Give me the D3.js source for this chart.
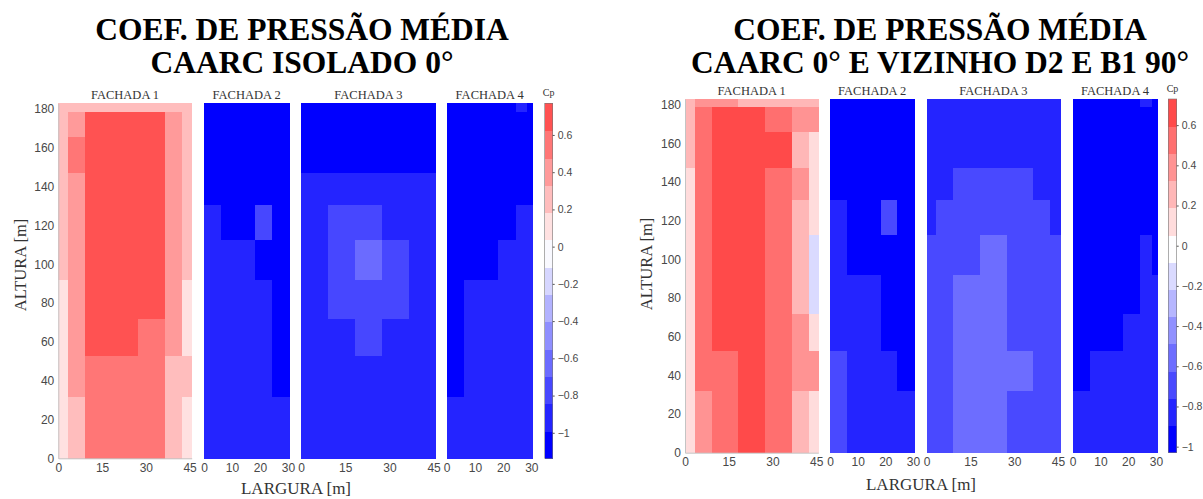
<!DOCTYPE html>
<html>
<head>
<meta charset="utf-8">
<script src="https://cdn.jsdelivr.net/npm/d3@7"></script>
<style>
  body { margin: 0; background: #fff; }
  svg { display: block; }
</style>
</head>
<body>
<script>
// ---------- data ----------
// cell edges (m): heights are shared, widths differ for wide (45.72) and narrow (30.48) faces
var rowEdges = [0, 31.7, 52.7, 71.6, 91.9, 112.5, 130.5, 147.2, 165.7, 178.6, 182.88];
var wideEdges = [0, 3.3, 9.144, 18.288, 27.432, 36.576, 42.4, 45.72];
var narrowEdges = [0, 2.1, 6.096, 12.192, 18.288, 24.384, 28.4, 30.48];

var yTicks = [0, 20, 40, 60, 80, 100, 120, 140, 160, 180];
var wideTicks = [0, 15, 30, 45];
var narrowTicks = [0, 10, 20, 30];
var cbTicks = [-1, -0.8, -0.6, -0.4, -0.2, 0, 0.2, 0.4, 0.6];
var facadeNames = ["FACHADA 1", "FACHADA 2", "FACHADA 3", "FACHADA 4"];

// Cp per cell, rows listed from top (182 m) to bottom (0 m)
// ---- CAARC isolado 0°
var iso_f1 = [
  [0.25, 0.25, 0.25, 0.25, 0.25, 0.25, 0.25],
  [0.25, 0.4, 0.7, 0.7, 0.7, 0.4, 0.25],
  [0.25, 0.55, 0.7, 0.7, 0.7, 0.4, 0.25],
  [0.25, 0.4, 0.7, 0.7, 0.7, 0.4, 0.25],
  [0.25, 0.4, 0.7, 0.7, 0.7, 0.4, 0.25],
  [0.25, 0.4, 0.7, 0.7, 0.7, 0.4, 0.25],
  [0.1, 0.4, 0.7, 0.7, 0.7, 0.4, 0.1],
  [0.1, 0.4, 0.7, 0.7, 0.55, 0.4, 0.1],
  [0.1, 0.4, 0.55, 0.55, 0.55, 0.25, 0.25],
  [0.1, 0.25, 0.55, 0.55, 0.55, 0.25, 0.1]
];
var iso_f2 = [
  [-1.05, -1.05, -1.05, -1.05, -1.05, -1.05, -1.05],
  [-1.05, -1.05, -1.05, -1.05, -1.05, -1.05, -1.05],
  [-1.05, -1.05, -1.05, -1.05, -1.05, -1.05, -1.05],
  [-1.05, -1.05, -1.05, -1.05, -1.05, -1.05, -1.05],
  [-0.92, -0.92, -1.05, -1.05, -0.77, -1.05, -1.05],
  [-0.92, -0.92, -0.92, -0.92, -1.05, -1.05, -1.05],
  [-0.92, -0.92, -0.92, -0.92, -0.92, -1.05, -1.05],
  [-0.92, -0.92, -0.92, -0.92, -0.92, -1.05, -1.05],
  [-0.92, -0.92, -0.92, -0.92, -0.92, -1.05, -1.05],
  [-0.92, -0.92, -0.92, -0.92, -0.92, -0.92, -0.92]
];
var iso_f3 = [
  [-1.05, -1.05, -1.05, -1.05, -1.05, -1.05, -1.05],
  [-1.05, -1.05, -1.05, -1.05, -1.05, -1.05, -1.05],
  [-1.05, -1.05, -1.05, -1.05, -1.05, -1.05, -1.05],
  [-0.92, -0.92, -0.92, -0.92, -0.92, -0.92, -0.92],
  [-0.92, -0.92, -0.77, -0.77, -0.92, -0.92, -0.92],
  [-0.92, -0.92, -0.77, -0.62, -0.77, -0.92, -0.92],
  [-0.92, -0.92, -0.77, -0.77, -0.77, -0.92, -0.92],
  [-0.92, -0.92, -0.92, -0.77, -0.92, -0.92, -0.92],
  [-0.92, -0.92, -0.92, -0.92, -0.92, -0.92, -0.92],
  [-0.92, -0.92, -0.92, -0.92, -0.92, -0.92, -0.92]
];
var iso_f4 = [
  [-1.05, -1.05, -1.05, -1.05, -1.05, -0.92, -1.05],
  [-1.05, -1.05, -1.05, -1.05, -1.05, -1.05, -1.05],
  [-1.05, -1.05, -1.05, -1.05, -1.05, -1.05, -1.05],
  [-1.05, -1.05, -1.05, -1.05, -1.05, -1.05, -1.05],
  [-1.05, -1.05, -1.05, -1.05, -1.05, -0.92, -0.92],
  [-1.05, -1.05, -1.05, -1.05, -0.92, -0.92, -0.92],
  [-1.05, -1.05, -0.92, -0.92, -0.92, -0.92, -0.92],
  [-1.05, -1.05, -0.92, -0.92, -0.92, -0.92, -0.92],
  [-1.05, -1.05, -0.92, -0.92, -0.92, -0.92, -0.92],
  [-0.92, -0.92, -0.92, -0.92, -0.92, -0.92, -0.92]
];

// ---- CAARC 0° e vizinho D2 e B1 90°
var viz_f1 = [
  [0.3, 0.4, 0.4, 0.25, 0.25, 0.25, 0.25],
  [0.3, 0.55, 0.7, 0.7, 0.55, 0.45, 0.35],
  [0.3, 0.55, 0.7, 0.7, 0.7, 0.3, 0.15],
  [0.15, 0.55, 0.7, 0.7, 0.55, 0.45, 0.15],
  [0.15, 0.55, 0.7, 0.7, 0.55, 0.25, 0.12],
  [0.15, 0.55, 0.7, 0.7, 0.55, 0.25, -0.1],
  [0.15, 0.55, 0.7, 0.7, 0.55, 0.25, -0.1],
  [0.15, 0.55, 0.7, 0.7, 0.55, 0.45, 0.12],
  [0.15, 0.55, 0.55, 0.7, 0.55, 0.45, 0.45],
  [0.1, 0.4, 0.5, 0.6, 0.5, 0.3, 0.15]
];
var viz_f2 = [
  [-0.95, -0.95, -0.95, -0.95, -0.95, -0.95, -0.95],
  [-0.95, -0.95, -0.95, -0.95, -0.95, -0.95, -0.95],
  [-0.95, -0.95, -0.95, -0.95, -0.95, -0.95, -0.95],
  [-0.95, -0.95, -0.95, -0.95, -0.95, -0.95, -0.95],
  [-0.85, -0.85, -0.95, -0.95, -0.7, -0.95, -0.95],
  [-0.85, -0.85, -0.95, -0.95, -0.95, -0.95, -0.95],
  [-0.85, -0.85, -0.85, -0.85, -0.95, -0.95, -0.95],
  [-0.85, -0.85, -0.85, -0.85, -0.95, -0.95, -0.95],
  [-0.7, -0.7, -0.85, -0.85, -0.85, -0.95, -0.95],
  [-0.7, -0.7, -0.85, -0.85, -0.85, -0.85, -0.85]
];
var viz_f3 = [
  [-0.85, -0.85, -0.85, -0.85, -0.85, -0.85, -0.85],
  [-0.85, -0.85, -0.85, -0.85, -0.85, -0.85, -0.85],
  [-0.85, -0.85, -0.85, -0.85, -0.85, -0.85, -0.85],
  [-0.85, -0.85, -0.7, -0.7, -0.7, -0.85, -0.85],
  [-0.85, -0.7, -0.7, -0.7, -0.7, -0.7, -0.85],
  [-0.7, -0.7, -0.7, -0.55, -0.7, -0.7, -0.7],
  [-0.7, -0.7, -0.55, -0.55, -0.7, -0.7, -0.7],
  [-0.7, -0.7, -0.55, -0.55, -0.7, -0.7, -0.7],
  [-0.7, -0.7, -0.55, -0.55, -0.55, -0.7, -0.7],
  [-0.7, -0.7, -0.55, -0.55, -0.7, -0.7, -0.7]
];
var viz_f4 = [
  [-0.95, -0.95, -0.95, -0.95, -0.95, -0.85, -0.95],
  [-0.95, -0.95, -0.95, -0.95, -0.95, -0.95, -0.95],
  [-0.95, -0.95, -0.95, -0.95, -0.95, -0.95, -0.95],
  [-0.95, -0.95, -0.95, -0.95, -0.95, -0.95, -0.95],
  [-0.95, -0.95, -0.95, -0.95, -0.95, -0.95, -0.95],
  [-0.95, -0.95, -0.95, -0.95, -0.95, -0.85, -0.95],
  [-0.95, -0.95, -0.95, -0.95, -0.95, -0.85, -0.85],
  [-0.95, -0.95, -0.95, -0.95, -0.85, -0.85, -0.85],
  [-0.95, -0.95, -0.85, -0.85, -0.85, -0.85, -0.85],
  [-0.85, -0.85, -0.85, -0.85, -0.85, -0.85, -0.85]
];

// colour limits of each colour bar
var isoLimits = [-1.137, 0.77];
var vizLimits = [-1.03, 0.73];
var nBands = 13;

// ---------- drawing ----------
var serif = "'Liberation Serif', 'Times New Roman', serif";
var sans = "'Liberation Sans', Arial, sans-serif";

var svg = d3.select("body").append("svg")
    .attr("width", 1203)
    .attr("height", 499);

// blue - white - red, white at zero
function cpColor(v, maxAbs) {
  var t = v / maxAbs;
  if (t < 0) return d3.interpolateRgb("#0000ff", "#ffffff")(1 + t);
  return d3.interpolateRgb("#ffffff", "#ff0000")(t);
}

function drawPanel(p) {
  var g = svg.append("g");
  var vmin = p.limits[0], vmax = p.limits[1];
  var maxAbs = Math.max(Math.abs(vmin), Math.abs(vmax));
  var levels = d3.range(nBands).map(function(i) { return vmin + i * (vmax - vmin) / (nBands - 1); });
  var color = d3.scaleQuantize()
      .domain([vmin, vmax])
      .range(levels.map(function(v) { return cpColor(v, maxAbs); }));

  var y = d3.scaleLinear().domain([0, 182.88]).range([p.bottom, p.top]);

  // title
  g.selectAll(".title")
    .data(p.title)
    .enter().append("text")
    .attr("x", p.titleX)
    .attr("y", function(d, i) { return p.titleY + i * 33; })
    .attr("text-anchor", "middle")
    .style("font-family", serif)
    .style("font-weight", "bold")
    .style("font-size", "31.5px")
    .text(function(d) { return d; });

  p.faces.forEach(function(f, k) {
    var edges = f.wide ? wideEdges : narrowEdges;
    var x = d3.scaleLinear().domain([0, edges[edges.length - 1]]).range(f.range);
    var cells = [];
    f.data.forEach(function(row, ri) {
      var r = rowEdges.length - 2 - ri; // data rows run top -> bottom
      row.forEach(function(v, c) {
        cells.push({ x0: edges[c], x1: edges[c + 1], y0: rowEdges[r], y1: rowEdges[r + 1], v: v });
      });
    });

    var fg = g.append("g");
    fg.append("g")
      .attr("shape-rendering", "crispEdges")
      .selectAll("rect")
      .data(cells)
      .enter().append("rect")
      .attr("x", function(d) { return x(d.x0); })
      .attr("y", function(d) { return y(d.y1); })
      .attr("width", function(d) { return x(d.x1) - x(d.x0) + 0.6; })
      .attr("height", function(d) { return y(d.y0) - y(d.y1) + 0.6; })
      .attr("fill", function(d) { return color(d.v); });

    // x axis
    var xa = fg.append("g")
      .attr("transform", "translate(0," + p.bottom + ")")
      .call(d3.axisBottom(x).tickValues(f.wide ? wideTicks : narrowTicks).tickSize(0).tickPadding(5));
    xa.select(".domain").attr("stroke", k == 0 ? "#c4c4c4" : "none");
    xa.selectAll("text").style("font-family", sans).style("font-size", "12px").attr("fill", "#484848");

    // facade name
    fg.append("text")
      .attr("x", (f.range[0] + f.range[1]) / 2)
      .attr("y", p.nameY)
      .attr("text-anchor", "middle")
      .style("font-family", serif)
      .style("font-size", "12.5px")
      .attr("fill", "#333")
      .text(facadeNames[k]);

    if (k == 0) {
      var ya = fg.append("g")
        .attr("transform", "translate(" + f.range[0] + ",0)")
        .call(d3.axisLeft(y).tickValues(yTicks).tickSize(0).tickPadding(4));
      ya.select(".domain").attr("stroke", "#c4c4c4");
      ya.selectAll("text").style("font-family", sans).style("font-size", "12px").attr("fill", "#484848");
    }
  });

  // axis labels
  g.append("text")
    .attr("transform", "translate(" + p.yLabelX + "," + p.yLabelY + ") rotate(-90)")
    .attr("text-anchor", "middle")
    .style("font-family", serif)
    .style("font-size", "16.5px")
    .attr("fill", "#333")
    .text("ALTURA [m]");
  g.append("text")
    .attr("x", p.xLabelX)
    .attr("y", p.xLabelY)
    .attr("text-anchor", "middle")
    .style("font-family", serif)
    .style("font-size", "17px")
    .attr("fill", "#333")
    .text("LARGURA [m]");

  // colour bar
  var cb = d3.scaleLinear().domain([vmin, vmax]).range([p.bottom, p.top]);
  var bandW = (vmax - vmin) / nBands;
  var bands = d3.range(nBands).map(function(i) { return { a: vmin + i * bandW, b: vmin + (i + 1) * bandW }; });
  var cg = g.append("g");
  cg.append("g")
    .attr("shape-rendering", "crispEdges")
    .selectAll("rect")
    .data(bands)
    .enter().append("rect")
    .attr("x", p.cb[0])
    .attr("width", p.cb[1] - p.cb[0])
    .attr("y", function(d) { return cb(d.b); })
    .attr("height", function(d) { return cb(d.a) - cb(d.b) + 0.6; })
    .attr("fill", function(d) { return color((d.a + d.b) / 2); });
  cg.append("rect")
    .attr("x", p.cb[0]).attr("y", p.top)
    .attr("width", p.cb[1] - p.cb[0]).attr("height", p.bottom - p.top)
    .attr("fill", "none").attr("stroke", "#777").attr("stroke-width", 0.6);
  var ca = cg.append("g")
    .attr("transform", "translate(" + p.cb[1] + ",0)")
    .call(d3.axisRight(cb).tickValues(cbTicks).tickSize(2).tickPadding(3).tickFormat(d3.format("")));
  ca.select(".domain").remove();
  ca.selectAll("line").attr("stroke", "#555");
  ca.selectAll("text").style("font-family", sans).style("font-size", "10.5px").attr("fill", "#484848");
  cg.append("text")
    .attr("x", (p.cb[0] + p.cb[1]) / 2)
    .attr("y", p.top - 7)
    .attr("text-anchor", "middle")
    .style("font-family", serif)
    .style("font-size", "10px")
    .attr("fill", "#333")
    .text("Cp");
}

drawPanel({
  title: ["COEF. DE PRESSÃO MÉDIA", "CAARC ISOLADO 0°"],
  titleX: 302, titleY: 40,
  top: 103.3, bottom: 458.3, nameY: 98.5,
  limits: isoLimits,
  faces: [
    { range: [58.3, 191.7], wide: true, data: iso_f1 },
    { range: [204, 289.3], wide: false, data: iso_f2 },
    { range: [301, 435.7], wide: true, data: iso_f3 },
    { range: [446.7, 532.7], wide: false, data: iso_f4 }
  ],
  cb: [544.7, 552.7],
  yLabelX: 26, yLabelY: 265, xLabelX: 296, xLabelY: 494
});

drawPanel({
  title: ["COEF. DE PRESSÃO MÉDIA", "CAARC 0° E VIZINHO D2 E B1 90°"],
  titleX: 940, titleY: 40,
  top: 99, bottom: 452.7, nameY: 95,
  limits: vizLimits,
  faces: [
    { range: [685, 818.3], wide: true, data: viz_f1 },
    { range: [830, 914.3], wide: false, data: viz_f2 },
    { range: [926.7, 1060], wide: true, data: viz_f3 },
    { range: [1072.7, 1157.3], wide: false, data: viz_f4 }
  ],
  cb: [1168.3, 1176.7],
  yLabelX: 652, yLabelY: 264, xLabelX: 921, xLabelY: 490
});
</script>
</body>
</html>
